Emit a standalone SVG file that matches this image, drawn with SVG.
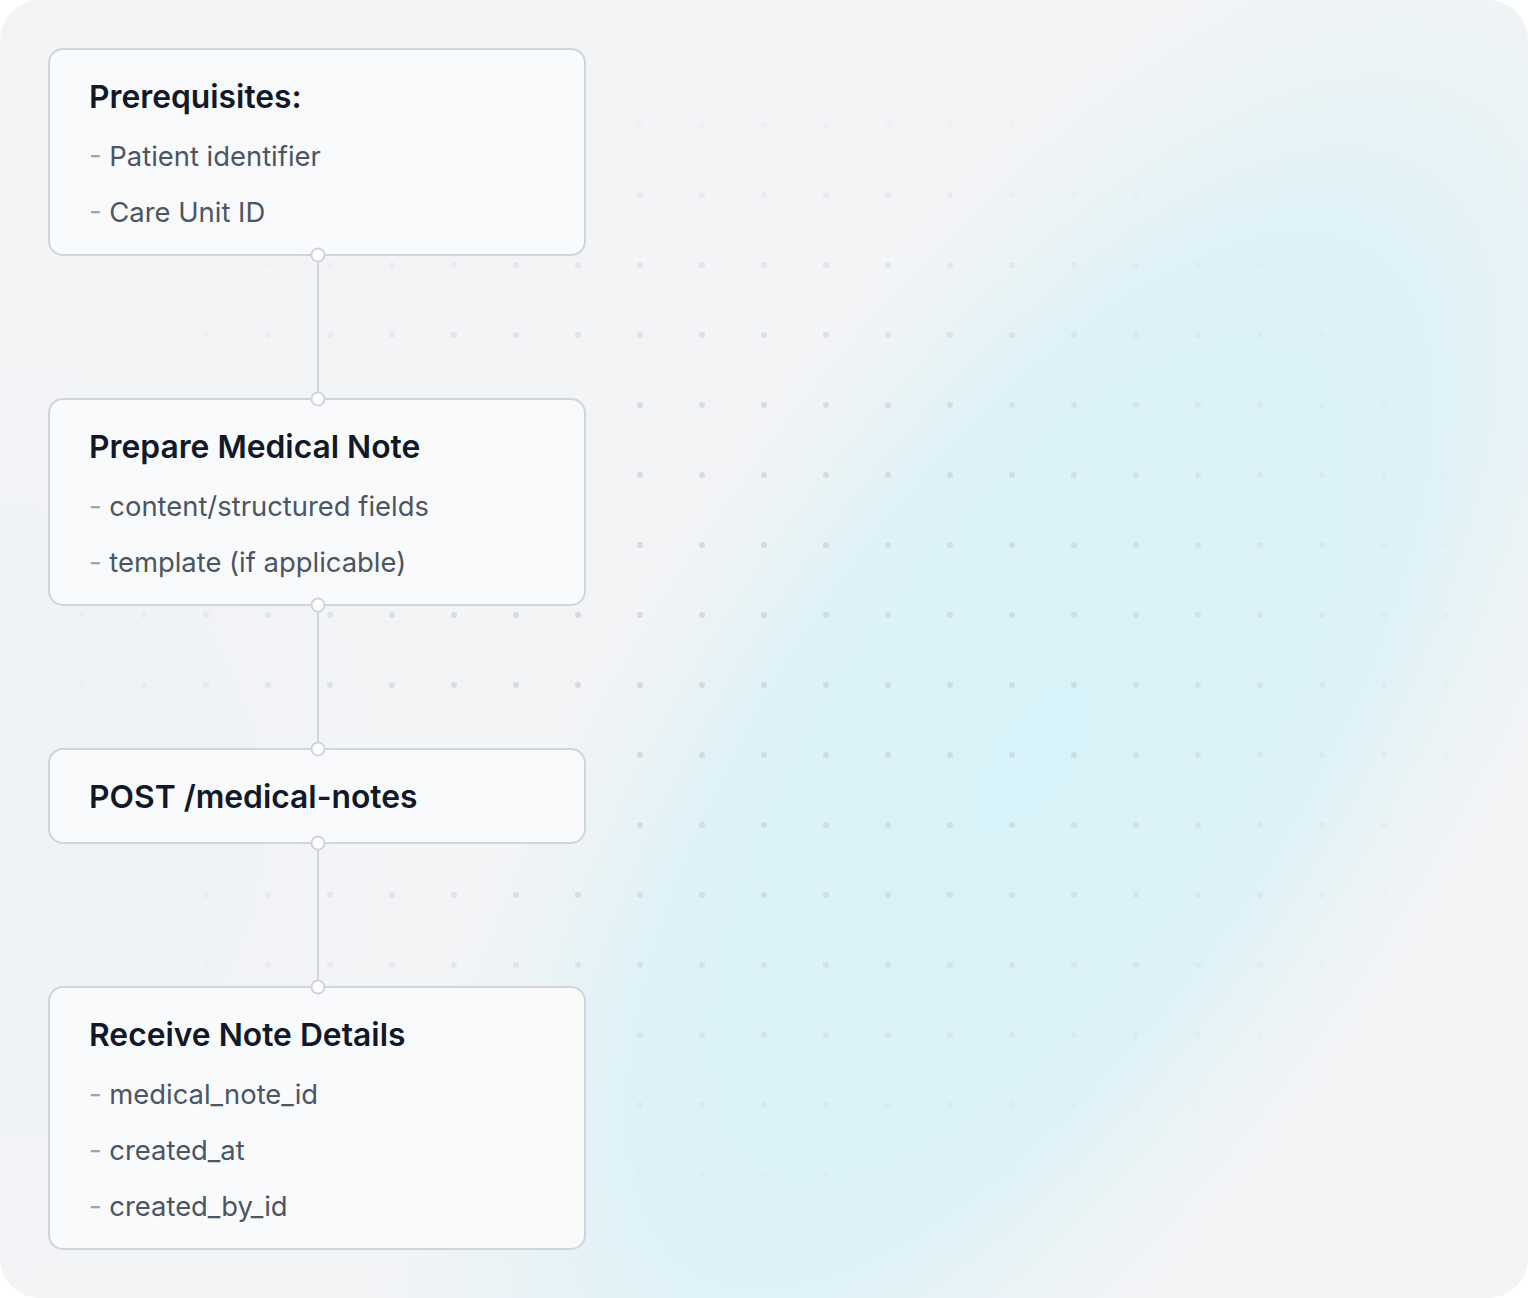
<svg xmlns="http://www.w3.org/2000/svg" width="1528" height="1298" viewBox="0 0 1528 1298">
  <defs>
    <style>
      .node { fill: #f9fafb; stroke: #d1d5db; stroke-width: 2; }
      .title { font-family: Inter, "Liberation Sans", sans-serif; font-size: 31.8px; font-weight: 600; fill: #111827; }
      .body { font-family: Inter, "Liberation Sans", sans-serif; font-size: 27.4px; font-weight: 400; fill: #4b5563; }
      .dash { fill: #9ca3af; }
      .edge { stroke: #d1d5db; stroke-width: 2; fill: none; }
      .port { fill: #ffffff; stroke: #d1d5db; stroke-width: 2; }
    </style>
    <radialGradient id="glow1" cx="1030" cy="760" r="1000" gradientUnits="userSpaceOnUse" gradientTransform="translate(1030 760) rotate(-56) scale(1 0.42) translate(-1030 -760)">
      <stop offset="0" stop-color="#d7f3f9" stop-opacity="1"/>
      <stop offset="0.6" stop-color="#d9f2f8" stop-opacity="0.85"/>
      <stop offset="1" stop-color="#e4f2f7" stop-opacity="0"/>
    </radialGradient>
    <radialGradient id="glow2" cx="0" cy="820" r="380" gradientUnits="userSpaceOnUse" gradientTransform="translate(0 820) scale(1 1.2) translate(0 -820)">
      <stop offset="0" stop-color="#e8f1f6" stop-opacity="0.6"/>
      <stop offset="1" stop-color="#e8f1f6" stop-opacity="0"/>
    </radialGradient>
    <pattern id="dots" x="20" y="55" width="62" height="70" patternUnits="userSpaceOnUse">
      <circle cx="0" cy="0" r="3" fill="#d1d5db"/>
      <circle cx="62" cy="0" r="3" fill="#d1d5db"/>
      <circle cx="0" cy="70" r="3" fill="#d1d5db"/>
      <circle cx="62" cy="70" r="3" fill="#d1d5db"/>
    </pattern>
    <radialGradient id="fade" cx="764" cy="650" r="700" gradientUnits="userSpaceOnUse" gradientTransform="translate(764 650) scale(1.08 0.85) translate(-764 -650)">
      <stop offset="0" stop-color="#fff" stop-opacity="1"/>
      <stop offset="0.45" stop-color="#fff" stop-opacity="0.9"/>
      <stop offset="1" stop-color="#fff" stop-opacity="0"/>
    </radialGradient>
    <mask id="dotmask" maskUnits="userSpaceOnUse" x="0" y="0" width="1528" height="1298">
      <rect x="0" y="0" width="1528" height="1298" fill="url(#fade)"/>
    </mask>
    <clipPath id="bgclip">
      <rect x="0" y="0" width="1528" height="1298" rx="40"/>
    </clipPath>
  </defs>

  <rect x="0" y="0" width="1528" height="1298" fill="#ffffff"/>
  <g id="background" clip-path="url(#bgclip)">
    <rect x="0" y="0" width="1528" height="1298" fill="#f3f4f6"/>
    <rect x="0" y="0" width="1528" height="1298" fill="url(#glow2)"/>
    <rect x="0" y="0" width="1528" height="1298" fill="url(#glow1)"/>
    <rect x="0" y="0" width="1528" height="1298" fill="url(#dots)" mask="url(#dotmask)" opacity="0.85"/>
  </g>

  <g id="connectors">
    <line class="edge" x1="318" y1="255" x2="318" y2="399"/>
    <line class="edge" x1="318" y1="605" x2="318" y2="749"/>
    <line class="edge" x1="318" y1="843" x2="318" y2="987"/>
  </g>

  <g id="node-prerequisites">
    <rect class="node" x="49" y="49" width="536" height="206" rx="14"/>
    <text class="title" x="89" y="108">Prerequisites:</text>
    <text class="body" x="89" y="166"><tspan class="dash">- </tspan>Patient identifier</text>
    <text class="body" x="89" y="222"><tspan class="dash">- </tspan>Care Unit ID</text>
  </g>

  <g id="node-prepare">
    <rect class="node" x="49" y="399" width="536" height="206" rx="14"/>
    <text class="title" x="89" y="458">Prepare Medical Note</text>
    <text class="body" x="89" y="516"><tspan class="dash">- </tspan>content/structured fields</text>
    <text class="body" x="89" y="572"><tspan class="dash">- </tspan>template (if applicable)</text>
  </g>

  <g id="node-post">
    <rect class="node" x="49" y="749" width="536" height="94" rx="14"/>
    <text class="title" x="89" y="808">POST /medical-notes</text>
  </g>

  <g id="node-receive">
    <rect class="node" x="49" y="987" width="536" height="262" rx="14"/>
    <text class="title" x="89" y="1046">Receive Note Details</text>
    <text class="body" x="89" y="1104"><tspan class="dash">- </tspan>medical_note_id</text>
    <text class="body" x="89" y="1160"><tspan class="dash">- </tspan>created_at</text>
    <text class="body" x="89" y="1216"><tspan class="dash">- </tspan>created_by_id</text>
  </g>

  <g id="ports">
    <circle class="port" cx="318" cy="255" r="6.5"/>
    <circle class="port" cx="318" cy="399" r="6.5"/>
    <circle class="port" cx="318" cy="605" r="6.5"/>
    <circle class="port" cx="318" cy="749" r="6.5"/>
    <circle class="port" cx="318" cy="843" r="6.5"/>
    <circle class="port" cx="318" cy="987" r="6.5"/>
  </g>
</svg>
